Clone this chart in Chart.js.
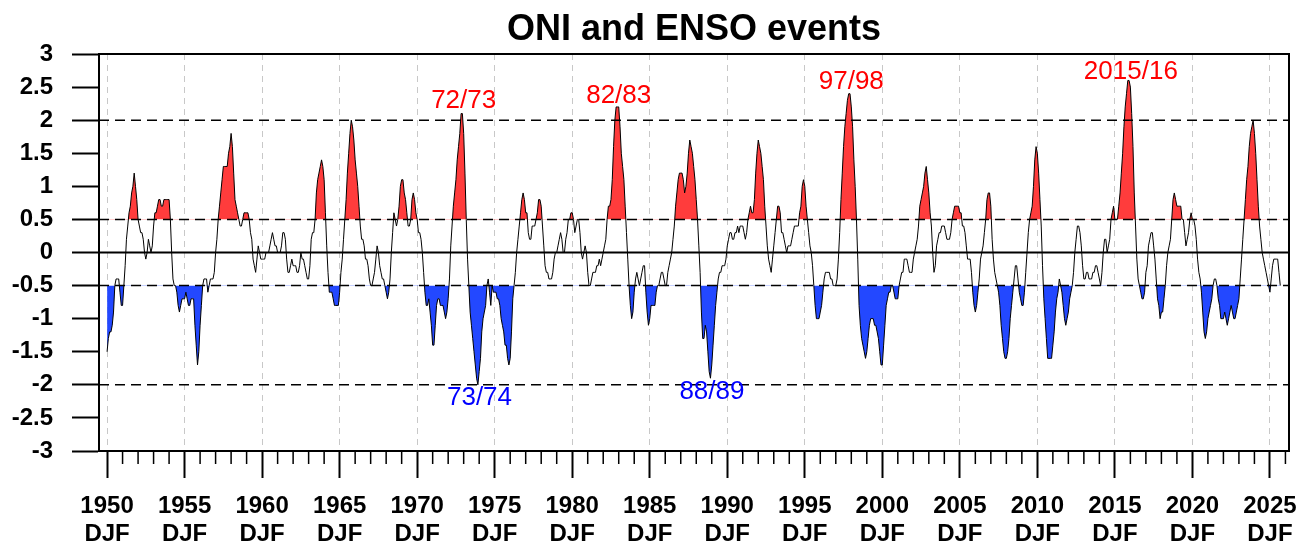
<!DOCTYPE html>
<html>
<head>
<meta charset="utf-8">
<title>ONI and ENSO events</title>
<script src="https://cdn.jsdelivr.net/npm/chart.js@4.4.1/dist/chart.umd.min.js"></script>
<style>
    html, body { margin: 0; padding: 0; background: #fff; }
</style>
</head>
<body>
<canvas id="chartOni" width="1301" height="544"></canvas>
<script>
// ===========================================
// ONI (Oceanic Nino Index) - running 3-month seasons DJF, JFM, ..., NDJ
// ===========================================

// one array per decade, 12 seasons per year
const oni1950s = [
    -1.5, -1.3, -1.2, -1.2, -1.1, -0.9, -0.5, -0.4, -0.4, -0.4, -0.6, -0.8,
    -0.8, -0.5, -0.2, 0.2, 0.4, 0.6, 0.7, 0.9, 1.0, 1.2, 1.0, 0.8,
    0.5, 0.4, 0.3, 0.3, 0.2, 0.0, -0.1, 0.0, 0.2, 0.1, 0.0, 0.1,
    0.4, 0.6, 0.6, 0.7, 0.8, 0.8, 0.7, 0.7, 0.8, 0.8, 0.8, 0.8,
    0.8, 0.5, 0.0, -0.4, -0.5, -0.5, -0.6, -0.8, -0.9, -0.8, -0.7, -0.7,
    -0.7, -0.6, -0.7, -0.8, -0.8, -0.7, -0.7, -0.7, -1.1, -1.4, -1.7, -1.5,
    -1.1, -0.8, -0.5, -0.4, -0.4, -0.4, -0.6, -0.5, -0.4, -0.4, -0.4, -0.3,
    0.0, 0.2, 0.5, 0.7, 0.9, 1.1, 1.3, 1.3, 1.3, 1.3, 1.5, 1.6,
    1.8, 1.6, 1.2, 0.8, 0.7, 0.6, 0.5, 0.4, 0.4, 0.5, 0.6, 0.6,
    0.6, 0.6, 0.5, 0.3, 0.2, -0.1, -0.2, -0.3, -0.1, 0.1, 0.0, -0.1
];
const oni1960s = [
    -0.1, -0.1, -0.1, 0.0, 0.0, 0.0, 0.1, 0.2, 0.3, 0.2, 0.1, 0.1,
    0.0, 0.0, 0.0, 0.1, 0.3, 0.3, 0.2, -0.1, -0.3, -0.3, -0.2, -0.1,
    -0.2, -0.2, -0.2, -0.3, -0.3, -0.2, 0.0, -0.1, -0.1, -0.2, -0.3, -0.4,
    -0.4, -0.2, 0.2, 0.3, 0.3, 0.5, 0.9, 1.1, 1.2, 1.3, 1.4, 1.3,
    1.1, 0.6, 0.1, -0.3, -0.6, -0.6, -0.6, -0.7, -0.8, -0.8, -0.8, -0.8,
    -0.6, -0.3, -0.1, 0.2, 0.5, 0.8, 1.2, 1.5, 1.8, 2.0, 1.9, 1.7,
    1.4, 1.2, 1.0, 0.7, 0.4, 0.2, 0.2, 0.1, -0.1, -0.1, -0.2, -0.4,
    -0.5, -0.5, -0.4, -0.3, -0.1, 0.1, 0.0, -0.2, -0.3, -0.4, -0.4, -0.5,
    -0.6, -0.7, -0.6, -0.4, 0.0, 0.3, 0.6, 0.5, 0.4, 0.5, 0.7, 1.0,
    1.1, 1.1, 0.9, 0.8, 0.6, 0.4, 0.4, 0.5, 0.8, 0.9, 0.8, 0.6
];
const oni1970s = [
    0.5, 0.3, 0.3, 0.2, 0.0, -0.3, -0.6, -0.8, -0.8, -0.7, -0.9, -1.1,
    -1.4, -1.4, -1.1, -0.8, -0.7, -0.7, -0.8, -0.8, -0.8, -0.9, -1.0, -0.9,
    -0.7, -0.4, 0.1, 0.4, 0.7, 0.9, 1.1, 1.4, 1.6, 1.8, 2.1, 2.1,
    1.8, 1.2, 0.5, -0.1, -0.5, -0.9, -1.1, -1.3, -1.5, -1.7, -1.9, -2.0,
    -1.8, -1.6, -1.2, -1.0, -0.9, -0.8, -0.5, -0.4, -0.6, -0.8, -0.5, -0.6,
    -0.6, -0.6, -0.7, -0.7, -0.8, -1.0, -1.1, -1.2, -1.4, -1.4, -1.6, -1.7,
    -1.6, -1.2, -0.7, -0.5, -0.3, 0.0, 0.2, 0.4, 0.6, 0.8, 0.9, 0.8,
    0.6, 0.6, 0.3, 0.2, 0.2, 0.4, 0.4, 0.4, 0.5, 0.6, 0.8, 0.8,
    0.7, 0.4, 0.1, -0.2, -0.3, -0.3, -0.4, -0.4, -0.4, -0.3, -0.1, 0.0,
    0.0, 0.1, 0.2, 0.3, 0.2, 0.0, 0.0, 0.2, 0.3, 0.5, 0.5, 0.6
];
const oni1980s = [
    0.6, 0.5, 0.3, 0.4, 0.5, 0.5, 0.3, 0.0, -0.1, 0.0, 0.1, 0.0,
    -0.3, -0.5, -0.5, -0.4, -0.3, -0.3, -0.3, -0.2, -0.2, -0.1, -0.2, -0.1,
    0.0, 0.1, 0.2, 0.5, 0.7, 0.7, 0.8, 1.1, 1.6, 2.0, 2.2, 2.2,
    2.2, 1.9, 1.5, 1.3, 1.1, 0.7, 0.3, -0.1, -0.5, -0.8, -1.0, -0.9,
    -0.6, -0.4, -0.3, -0.4, -0.5, -0.4, -0.3, -0.2, -0.2, -0.6, -0.9, -1.1,
    -1.0, -0.8, -0.8, -0.8, -0.8, -0.6, -0.5, -0.5, -0.4, -0.3, -0.3, -0.4,
    -0.5, -0.5, -0.3, -0.2, -0.1, 0.0, 0.2, 0.4, 0.7, 0.9, 1.1, 1.2,
    1.2, 1.2, 1.1, 0.9, 1.0, 1.2, 1.5, 1.7, 1.6, 1.5, 1.3, 1.1,
    0.8, 0.5, 0.1, -0.3, -0.9, -1.3, -1.3, -1.1, -1.2, -1.5, -1.8, -1.9,
    -1.7, -1.4, -1.1, -0.8, -0.6, -0.4, -0.3, -0.3, -0.2, -0.2, -0.2, -0.1
];
const oni1990s = [
    0.1, 0.2, 0.3, 0.3, 0.2, 0.2, 0.3, 0.3, 0.4, 0.3, 0.4, 0.4,
    0.4, 0.3, 0.2, 0.3, 0.5, 0.6, 0.7, 0.6, 0.6, 0.8, 1.2, 1.5,
    1.7, 1.6, 1.5, 1.3, 1.1, 0.7, 0.4, 0.1, -0.1, -0.2, -0.3, -0.1,
    0.1, 0.3, 0.5, 0.7, 0.7, 0.6, 0.3, 0.3, 0.2, 0.1, 0.0, 0.1,
    0.1, 0.1, 0.2, 0.3, 0.4, 0.4, 0.4, 0.4, 0.6, 0.7, 1.0, 1.1,
    1.0, 0.7, 0.5, 0.3, 0.1, 0.0, -0.2, -0.5, -0.8, -1.0, -1.0, -1.0,
    -0.9, -0.8, -0.6, -0.4, -0.3, -0.3, -0.3, -0.3, -0.4, -0.4, -0.5, -0.5,
    -0.5, -0.4, -0.1, 0.3, 0.8, 1.2, 1.6, 1.9, 2.1, 2.3, 2.4, 2.4,
    2.2, 1.9, 1.4, 1.0, 0.5, -0.1, -0.8, -1.1, -1.3, -1.4, -1.5, -1.6,
    -1.5, -1.3, -1.1, -1.0, -1.0, -1.0, -1.1, -1.1, -1.2, -1.3, -1.5, -1.7
];
const oni2000s = [
    -1.7, -1.4, -1.1, -0.8, -0.7, -0.6, -0.6, -0.5, -0.5, -0.6, -0.7, -0.7,
    -0.7, -0.5, -0.4, -0.3, -0.3, -0.1, -0.1, -0.1, -0.2, -0.3, -0.3, -0.3,
    -0.1, 0.0, 0.1, 0.2, 0.4, 0.7, 0.8, 0.9, 1.0, 1.2, 1.3, 1.1,
    0.9, 0.6, 0.4, 0.0, -0.3, -0.2, 0.1, 0.2, 0.3, 0.3, 0.4, 0.4,
    0.4, 0.3, 0.2, 0.2, 0.2, 0.3, 0.5, 0.6, 0.7, 0.7, 0.7, 0.7,
    0.6, 0.6, 0.4, 0.4, 0.3, 0.1, -0.1, -0.1, -0.1, -0.3, -0.6, -0.8,
    -0.9, -0.8, -0.6, -0.4, -0.1, 0.0, 0.1, 0.3, 0.5, 0.8, 0.9, 0.9,
    0.7, 0.2, -0.1, -0.3, -0.4, -0.5, -0.6, -0.8, -1.1, -1.3, -1.5, -1.6,
    -1.6, -1.5, -1.3, -1.0, -0.8, -0.6, -0.4, -0.2, -0.2, -0.4, -0.6, -0.7,
    -0.8, -0.8, -0.6, -0.3, 0.0, 0.3, 0.5, 0.6, 0.7, 1.0, 1.4, 1.6
];
const oni2010s = [
    1.5, 1.2, 0.8, 0.4, -0.2, -0.7, -1.0, -1.3, -1.6, -1.6, -1.6, -1.6,
    -1.4, -1.2, -0.9, -0.7, -0.6, -0.4, -0.5, -0.6, -0.8, -1.0, -1.1, -1.0,
    -0.9, -0.7, -0.6, -0.5, -0.3, 0.0, 0.2, 0.4, 0.4, 0.3, 0.1, -0.2,
    -0.4, -0.4, -0.3, -0.3, -0.4, -0.4, -0.4, -0.3, -0.3, -0.2, -0.2, -0.3,
    -0.4, -0.5, -0.3, 0.0, 0.2, 0.2, 0.0, 0.1, 0.2, 0.5, 0.6, 0.7,
    0.5, 0.5, 0.5, 0.7, 0.9, 1.2, 1.5, 1.9, 2.2, 2.4, 2.6, 2.6,
    2.5, 2.1, 1.6, 0.9, 0.4, -0.1, -0.4, -0.5, -0.6, -0.7, -0.7, -0.6,
    -0.3, -0.2, 0.1, 0.2, 0.3, 0.3, 0.1, -0.1, -0.4, -0.7, -0.8, -1.0,
    -0.9, -0.9, -0.7, -0.5, -0.2, 0.0, 0.1, 0.2, 0.5, 0.8, 0.9, 0.8,
    0.7, 0.7, 0.7, 0.7, 0.5, 0.5, 0.3, 0.1, 0.2, 0.3, 0.5, 0.6
];
const oni2020s = [
    0.5, 0.5, 0.4, 0.2, -0.1, -0.3, -0.4, -0.6, -0.9, -1.2, -1.3, -1.2,
    -1.0, -0.9, -0.8, -0.7, -0.5, -0.4, -0.4, -0.5, -0.7, -0.8, -1.0, -1.0,
    -1.0, -0.9, -1.0, -1.1, -1.0, -0.9, -0.8, -0.9, -1.0, -1.0, -0.9, -0.8,
    -0.7, -0.4, -0.1, 0.2, 0.5, 0.8, 1.1, 1.3, 1.6, 1.8, 1.9, 2.0,
    1.8, 1.5, 1.1, 0.7, 0.4, 0.2, 0.0, -0.1, -0.2, -0.3, -0.4, -0.5,
    -0.6, -0.4, -0.2, -0.1, -0.1, -0.1, -0.1, -0.3, -0.5
];

const startYear = 1950;          // first value = DJF 1950
const seasonsPerYear = 12;

// eixo X
const xTickYears = [1950, 1955, 1960, 1965, 1970, 1975, 1980, 1985, 1990, 1995, 2000, 2005, 2010, 2015, 2020, 2025];
const xTickSeason = 'DJF';
const xRange = [1949.48, 2026.23];

// eixo Y
const yRange = [-3, 3];
const yStep = 0.5;
const dashedLevels = [-2, -0.5, 0.5, 2];
const zeroLevel = 0;
const ninoThreshold = 0.5;
const ninaThreshold = -0.5;

// event labels
const eventLabels = ['72/73', '82/83', '97/98', '2015/16', '73/74', '88/89'];
const eventX = [1973.0, 1983.0, 1998.0, 2016.03, 1974.02, 1989.01];
const eventY = [2.29, 2.37, 2.58, 2.73, -2.2, -2.11];
const eventIsNino = [true, true, true, true, false, false];

// ============================
// MONTAR DADOS
// ============================
const oniValues = [].concat(oni1950s, oni1960s, oni1970s, oni1980s, oni1990s, oni2000s, oni2010s, oni2020s);
const oniPoints = oniValues.map((v, i) => ({ x: startYear + i / seasonsPerYear, y: v }));

const FONT = '"Liberation Sans", Helvetica, Arial, sans-serif';
const RED = 'rgb(255, 60, 60)';
const BLUE = 'rgb(35, 72, 255)';
const NONE = 'rgba(0,0,0,0)';

const levelLine = (lvl, dashed) => ({
    data: [{ x: xRange[0], y: lvl }, { x: xRange[1], y: lvl }],
    borderColor: '#000',
    borderWidth: dashed ? 1.5 : 2,
    borderDash: dashed ? [10, 6] : [],
    pointRadius: 0,
    fill: false,
    order: 2
});

// moldura + ticks menores (1 ano)
const frameAndMinorTicks = {
    id: 'frameAndMinorTicks',
    afterDraw(chart) {
        const { ctx, chartArea: a, scales: { x } } = chart;
        ctx.save();
        ctx.strokeStyle = '#000';
        ctx.lineWidth = 2;
        ctx.strokeRect(a.left, a.top, a.right - a.left, a.bottom - a.top);
        ctx.lineWidth = 1.5;
        ctx.beginPath();
        for (let yr = Math.ceil(x.min); yr <= x.max; yr++) {
            if (xTickYears.includes(yr)) continue;
            const px = x.getPixelForValue(yr);
            ctx.moveTo(px, a.bottom);
            ctx.lineTo(px, a.bottom + 13);
        }
        ctx.stroke();
        ctx.restore();
    }
};

const eventLabelPlugin = {
    id: 'eventLabels',
    afterDatasetsDraw(chart) {
        const { ctx, scales: { x, y } } = chart;
        ctx.save();
        ctx.font = '26px ' + FONT;
        ctx.textAlign = 'center';
        ctx.textBaseline = 'middle';
        eventLabels.forEach((txt, i) => {
            ctx.fillStyle = eventIsNino[i] ? '#ff0000' : '#0000ff';
            ctx.fillText(txt, x.getPixelForValue(eventX[i]), y.getPixelForValue(eventY[i]));
        });
        ctx.restore();
    }
};

const ctx = document.getElementById('chartOni');
new Chart(ctx.getContext('2d'), {
    type: 'line',
    data: {
        datasets: [
            {
                label: 'El Nino',
                data: oniPoints,
                borderColor: NONE,
                borderWidth: 0,
                pointRadius: 0,
                fill: { target: { value: ninoThreshold }, above: RED, below: NONE },
                order: 4
            },
            {
                label: 'La Nina',
                data: oniPoints,
                borderColor: NONE,
                borderWidth: 0,
                pointRadius: 0,
                fill: { target: { value: ninaThreshold }, above: NONE, below: BLUE },
                order: 4
            },
            ...dashedLevels.map(l => levelLine(l, true)),
            levelLine(zeroLevel, false),
            {
                label: 'ONI',
                data: oniPoints,
                borderColor: '#000',
                borderWidth: 1,
                pointRadius: 0,
                fill: false,
                tension: 0,
                order: 1
            }
        ]
    },
    options: {
        responsive: false,
        animation: false,
        events: [],
        layout: { padding: { left: 0, right: 12, top: 0, bottom: 0 } },
        plugins: {
            legend: { display: false },
            tooltip: { enabled: false },
            title: {
                display: true,
                fullSize: false,   // centrado sobre a area do grafico
                text: 'ONI and ENSO events',
                color: '#000',
                font: { family: FONT, size: 36, weight: 'bold', lineHeight: 1 },
                padding: { top: 12, bottom: 6 }
            }
        },
        scales: {
            x: {
                type: 'linear',
                min: xRange[0],
                max: xRange[1],
                z: 1,
                afterFit(s) {
                    s.height = 93;
                    s.paddingLeft = 0;
                    s.paddingRight = 0;
                },
                afterBuildTicks(s) { s.ticks = xTickYears.map(v => ({ value: v })); },
                grid: { color: '#c8c8c8', lineWidth: 1, tickLength: 27, tickWidth: 2, tickColor: '#000' },
                border: { display: true, color: '#000', width: 2, dash: [6, 5] },
                ticks: {
                    padding: 15,
                    maxRotation: 0,
                    autoSkip: false,
                    color: '#000',
                    font: { family: FONT, size: 24, weight: 'bold', lineHeight: 1.15 },
                    callback: v => [String(v), xTickSeason]
                }
            },
            y: {
                min: yRange[0],
                max: yRange[1],
                afterFit(s) { s.width = 99; },
                grid: { drawOnChartArea: false, tickLength: 27, tickWidth: 2, tickColor: '#000' },
                border: { display: true, color: '#000', width: 2 },
                ticks: {
                    stepSize: yStep,
                    padding: 19,
                    color: '#000',
                    font: { family: FONT, size: 24, weight: 'bold' },
                    callback: v => String(v)
                }
            }
        }
    },
    plugins: [frameAndMinorTicks, eventLabelPlugin]
});
</script>
</body>
</html>
